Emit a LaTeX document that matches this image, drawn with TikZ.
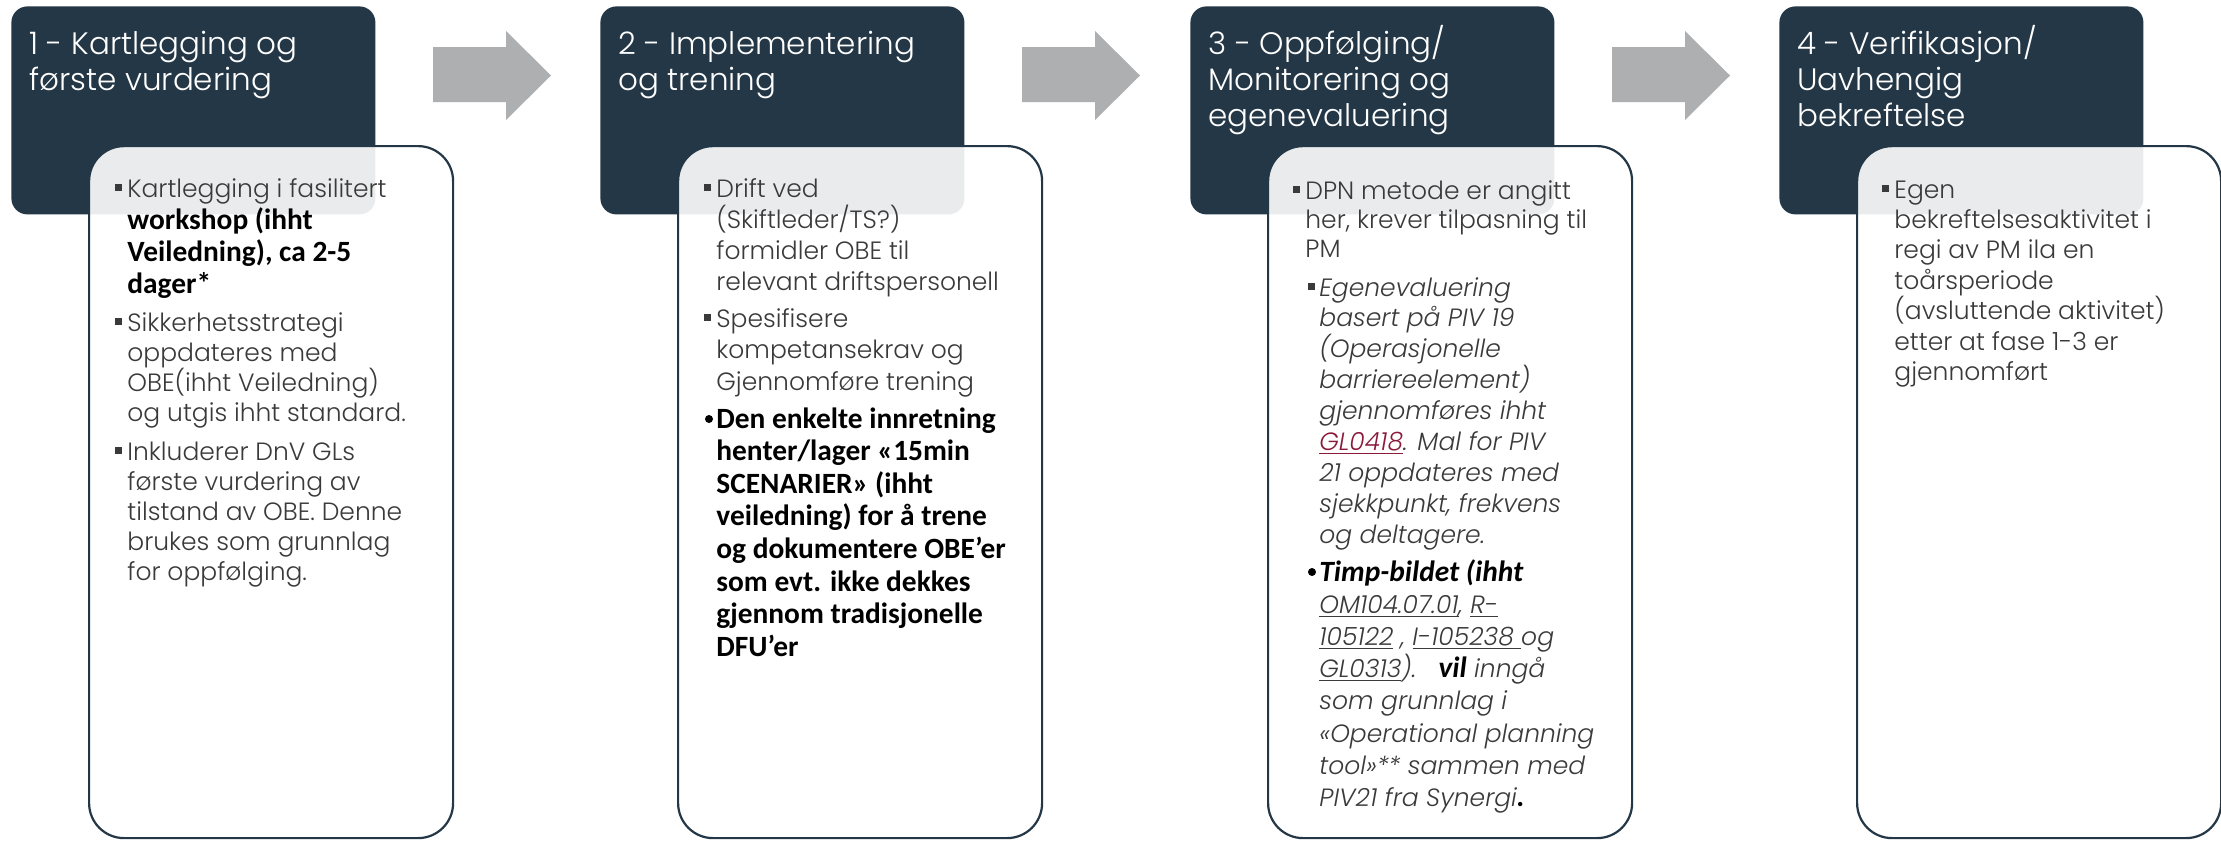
\documentclass[tikz,border=0pt]{standalone}
\usepackage{fontspec}
\setmainfont{Poppins}[UprightFont=* Light, ItalicFont=* Light Italic, BoldFont=* Medium, BoldItalicFont=* Medium Italic]
\newfontfamily\calfam{Carlito}
\definecolor{navy}{HTML}{243746}
\definecolor{arrowgray}{HTML}{ADAFB1}
\definecolor{gmgray}{HTML}{3A3A3A}
\definecolor{linkred}{HTML}{8B1A3A}
\newcommand\cbf{\calfam\bfseries\fontsize{14.7pt}{15.5pt}\selectfont\color{black}}
\newcommand\cbi{\calfam\bfseries\itshape\fontsize{14.7pt}{15.5pt}\selectfont\color{black}}
\newcommand\ul[1]{\underline{#1}}
\newcommand\stk[2]{\vtop{\baselineskip=#1\relax\lineskiplimit=-\maxdimen\lineskip=0pt\relax #2}}
\newcommand\li[1]{\hbox{#1}}
\tikzset{
  darkbox/.style={fill=navy, rounded corners=8pt, minimum width=182pt, minimum height=104pt, anchor=north west, inner sep=0pt},
  whitebox/.style={draw=navy, line width=1.1pt, fill=white, fill opacity=0.9, draw opacity=1, rounded corners=17.5pt, minimum width=182pt, minimum height=346pt, anchor=north west, inner sep=0pt},
  titletext/.style={anchor=base west, inner sep=0pt, text=white, font=\fontsize{15.5pt}{18pt}\selectfont},
  body/.style={anchor=base west, inner sep=0pt, text=gmgray, font=\fontsize{12.5pt}{15pt}\selectfont},
  sqbullet/.style={fill=gmgray},
  rdbullet/.style={fill=black},
  blockarrow/.style={fill=arrowgray}
}
\begin{document}
\begin{tikzpicture}[x=0.5pt,y=-0.5pt]
\useasboundingbox (0,0) rectangle (2221,842);
\fill[white] (0,0) rectangle (2221,842);
\foreach \i/\L in {1/11,2/600,3/1190,4/1779}{
  \node[darkbox] (d\i) at (\L,6) {};
}
\foreach \i/\L in {1/11,2/600,3/1190,4/1779}{
  \node[whitebox] (w\i) at (\L+77,145) {};
}
% arrows
\foreach \L in {11,600,1190}{
  \fill[blockarrow] (\L+422,47) -- (\L+495,47) -- (\L+495,31) -- (\L+540,75.5) -- (\L+495,120) -- (\L+495,102) -- (\L+422,102) -- cycle;
}
% titles
\node[titletext] (h1) at (29,54) {\stk{18pt}{\li{1 - Kartlegging og}\li{første vurdering}}};
\node[titletext] (h2) at (618,54) {\stk{18pt}{\li{2 - Implementering}\li{og trening}}};
\node[titletext] (h3) at (1208,54) {\stk{18pt}{\li{3 - Oppfølging/}\li{Monitorering og}\li{egenevaluering}}};
\node[titletext] (h4) at (1797,54) {\stk{18pt}{\li{4 - Verifikasjon/}\li{Uavhengig}\li{bekreftelse}}};

% ---------- box 1
\node[body] (b1a) at (127,197) {\stk{16pt}{\li{Kartlegging i fasilitert}\li{\cbf workshop (ihht}\li{\cbf Veiledning), ca 2-5}\li{\cbf dager*}}};
\node[body] (b1b) at (127,331) {\stk{15pt}{\li{Sikkerhetsstrategi}\li{oppdateres med}\li{OBE(ihht Veiledning)}\li{og utgis ihht standard.}}};
\node[body] (b1c) at (127,460) {\stk{15pt}{\li{Inkluderer DnV GLs}\li{første vurdering av}\li{tilstand av OBE. Denne}\li{brukes som grunnlag}\li{for oppfølging.}}};
\foreach \y in {197,331,460} \fill[sqbullet] (115,\y-13.5) rectangle (122,\y-6.5);

% ---------- box 2
\node[body] (b2a) at (716,197) {\stk{15.5pt}{\li{Drift ved}\li{(Skiftleder/TS?)}\li{formidler OBE til}\li{relevant driftspersonell}}};
\node[body] (b2b) at (716,327) {\stk{15.75pt}{\li{Spesifisere}\li{kompetansekrav og}\li{Gjennomføre trening}}};
\node[body] (b2c) at (716,428) {\stk{16.3pt}{\li{\cbf Den enkelte innretning}\li{\cbf henter/lager «15min}\li{\cbf SCENARIER» (ihht}\li{\cbf veiledning) for å trene}\li{\cbf og dokumentere OBE’er}\li{\cbf som evt. ikke dekkes}\li{\cbf gjennom tradisjonelle}\li{\cbf DFU’er}}};
\foreach \y in {197,327} \fill[sqbullet] (704,\y-13.5) rectangle (711,\y-6.5);
\fill[rdbullet] (709,428-9) circle (4);

% ---------- box 3
\node[body] (b3a) at (1305,199) {\stk{14.5pt}{\li{DPN metode er angitt}\li{her, krever tilpasning til}\li{PM}}};
\node[body, font=\fontsize{12.5pt}{15pt}\selectfont\itshape] (b3b) at (1319,296) {\stk{15.45pt}{\li{Egenevaluering}\li{basert på PIV 19}\li{(Operasjonelle}\li{barriereelement)}\li{gjennomføres ihht}\li{{\color{linkred}\ul{GL0418}}. Mal for PIV}\li{21 oppdateres med}\li{sjekkpunkt, frekvens}\li{og deltagere.}}};
\node[body, font=\fontsize{12.5pt}{15pt}\selectfont\itshape] (b3c) at (1319,581) {\stk{16.1pt}{\li{\cbi Timp-bildet (ihht}\li{\ul{OM104.07.01}, \ul{R-}}\li{\ul{105122} , \ul{I-105238 }og}\li{\ul{GL0313}).\ \ \ {\cbi vil} inngå}\li{som grunnlag i}\li{«Operational planning}\li{tool»** sammen med}\li{PIV21 fra Synergi{\cbi .}}}};
\fill[sqbullet] (1293,199-13.5) rectangle (1300,199-6.5);
\fill[sqbullet] (1308,296-13.5) rectangle (1315,296-6.5);
\fill[rdbullet] (1312,581-9) circle (4);

% ---------- box 4
\node[body] (b4a) at (1894,198) {\stk{15.2pt}{\li{Egen}\li{bekreftelsesaktivitet i}\li{regi av PM ila en}\li{toårsperiode}\li{(avsluttende aktivitet)}\li{etter at fase 1-3 er}\li{gjennomført}}};
\fill[sqbullet] (1882,198-13.5) rectangle (1889,198-6.5);
\end{tikzpicture}
\end{document}
